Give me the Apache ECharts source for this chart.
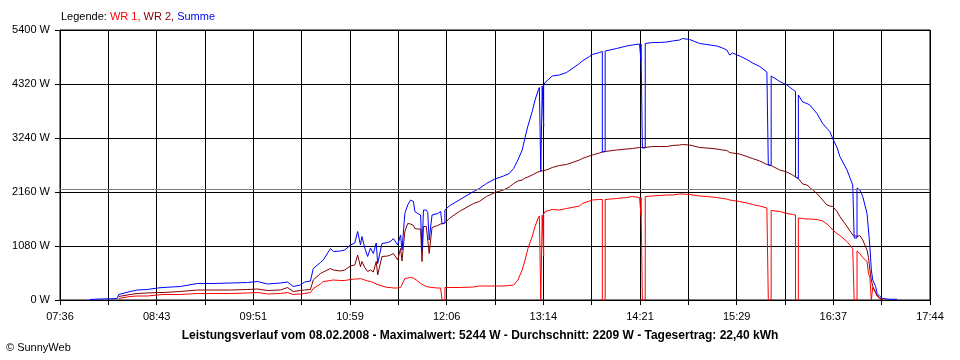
<!DOCTYPE html>
<html>
<head>
<meta charset="utf-8">
<script src="https://cdn.jsdelivr.net/npm/echarts@6/dist/echarts.min.js"></script>
<style>
html,body{margin:0;padding:0;background:#fff;}
#chart{width:960px;height:360px;}
</style>
</head>
<body>
<div id="chart"></div>
<script>
// ---- data ----
const startTime = '07:36';
const endTime = '17:44';
const xTickLabels = ['07:36','08:43','09:51','10:59','12:06','13:14','14:21','15:29','16:37','17:44'];
const yMax = 5400;
const yStep = 1080;
const average = 2209;

const times = [
'07:57','08:04','08:11','08:16','08:17','08:25','08:30','08:37','08:44','08:48',
'09:00','09:12','09:23','09:35','09:47','09:54','10:01','10:10','10:15','10:19',
'10:24','10:27','10:31','10:33','10:38','10:40','10:45','10:47','10:52','10:55',
'10:59','11:02','11:04','11:06','11:07','11:09','11:11','11:13','11:15','11:17',
'11:18','11:21','11:25','11:27','11:29','11:32','11:34','11:35','11:37','11:39',
'11:41','11:43','11:44','11:46','11:48','11:49','11:50','11:52','11:53','11:54',
'11:56','12:00','12:02','12:03','12:03','12:05','12:05','12:06','12:08','12:15',
'12:25','12:29','12:34','12:40','12:46','12:50','12:53','12:56','12:59','13:01',
'13:03','13:06','13:08','13:10','13:11','13:12','13:12','13:13','13:13','13:14',
'13:14','13:14','13:15','13:16','13:20','13:25','13:30','13:39','13:41','13:46',
'13:48','13:53','13:55','13:55','13:57','13:57','14:05','14:12','14:16','14:21',
'14:22','14:22','14:22','14:23','14:23','14:25','14:25','14:30','14:35','14:40',
'14:44','14:49','14:51','14:56','15:03','15:08','15:15','15:19','15:22','15:24',
'15:26','15:31','15:36','15:40','15:45','15:50','15:51','15:51','15:53','15:53',
'15:54','15:59','16:04','16:08','16:10','16:10','16:12','16:12','16:13','16:15',
'16:18','16:20','16:25','16:29','16:32','16:34','16:36','16:39','16:41','16:46',
'16:50','16:51','16:51','16:53','16:53','16:55','16:57','17:00','17:01','17:02',
'17:03','17:04','17:06','17:07','17:09','17:11','17:16','17:21'];

const wr1 = [
null,null,null,null,30,70,80,80,100,110,
110,130,130,130,140,150,120,130,150,110,
120,130,150,230,320,370,390,400,390,390,
410,420,420,430,430,400,380,370,350,320,
300,280,250,250,240,240,250,260,430,440,
450,440,410,380,330,310,300,270,260,260,
250,240,240,240,0,0,250,250,250,250,
260,280,280,280,280,290,300,400,600,800,
1030,1270,1470,1630,1680,1690,0,0,1700,1720,
880,1720,1770,1780,1810,1800,1830,1880,1930,1980,
2000,2010,2010,0,0,2010,2030,2050,2070,2050,
2050,1700,2050,2050,0,0,2070,2080,2090,2100,
2100,2120,2120,2110,2080,2070,2050,2030,2020,2000,
1990,1970,1940,1910,1880,1840,1830,0,0,1790,
1790,1770,1730,1710,1700,0,0,1640,1630,1630,
1620,1620,1610,1580,1520,1470,1400,1330,1290,1170,
1030,1020,0,0,980,930,850,770,530,450,
0,250,150,100,30,0,null,null];

const wr2 = [
null,null,null,null,70,110,130,140,150,150,
170,200,200,200,210,220,190,200,250,170,
190,200,210,400,530,560,630,600,580,600,
680,700,900,665,770,650,570,600,560,770,
500,870,880,900,930,800,1030,780,1370,1530,
1520,1490,1430,1420,1420,770,1470,1470,1460,930,
1450,1490,1520,1520,1520,1540,1540,1580,1630,1770,
1930,1970,2070,2150,2200,2260,2330,2380,2400,2440,
2460,2500,2530,2560,2570,2575,2575,2580,2580,2590,
2590,2590,2590,2600,2650,2690,2710,2800,2830,2880,
2900,2940,2960,2960,2970,2970,3000,3020,3030,3050,
3050,3050,3050,3050,3050,3050,3060,3070,3070,3070,
3090,3100,3110,3100,3050,3040,3020,3000,2990,2950,
2940,2920,2870,2830,2780,2710,2700,2700,2690,2690,
2680,2600,2560,2500,2460,2460,2430,2430,2400,2320,
2300,2250,2130,2000,1900,1880,1870,1770,1670,1470,
1300,1290,1270,1270,1290,1290,1200,1000,850,600,
400,270,150,80,30,10,null,null];

const summe = [
10,20,25,30,110,170,200,210,240,250,
270,330,330,340,350,370,320,340,360,270,
300,360,380,630,750,800,1030,970,980,1000,
1100,1140,1370,1100,1270,1040,870,1040,930,1140,
730,1130,1150,1170,1230,1100,1300,1000,1730,1900,
2000,1970,1770,1730,1700,1000,1800,1800,1750,1200,
1700,1730,1770,1770,1520,1540,1800,1840,1880,2000,
2170,2230,2330,2420,2480,2530,2630,2800,3000,3250,
3480,3770,4000,4180,4250,4260,2575,2580,4280,4300,
3470,4300,4350,4370,4480,4500,4550,4730,4780,4870,
4910,4950,4970,2960,2970,4980,5030,5080,5100,5120,
5120,4780,5120,5120,3040,3040,5130,5150,5150,5160,
5180,5200,5230,5210,5130,5110,5080,5040,5000,4900,
4940,4880,4810,4740,4670,4560,4540,2700,2690,4480,
4470,4370,4300,4210,4170,2460,2430,4100,4080,3960,
3930,3900,3730,3530,3430,3370,3230,3050,2870,2600,
2300,2280,1240,1240,2240,2200,2070,1730,1400,1070,
600,400,270,130,70,30,15,15];

// ---- helpers ----
function toMin(t){ const p = t.split(':'); return (+p[0])*60 + (+p[1]); }
const t0 = toMin(startTime);
const span = toMin(endTime) - t0;
const xStep = span / 18;
function pairs(vals){ return times.map((t,i)=>[toMin(t)-t0, vals[i]]); }

const FONT = "'Liberation Sans', Arial, sans-serif";
const chart = echarts.init(document.getElementById('chart'), null, {renderer:'canvas'});
chart.setOption({
  animation:false,
  backgroundColor:'#ffffff',
  title:[
    {left:61, top:11, padding:0, text:'{k|Legende: }{r|WR 1, }{d|WR 2, }{b|Summe}',
     textStyle:{fontFamily:FONT,fontSize:11,fontWeight:'normal',
       rich:{k:{color:'#000',fontFamily:FONT,fontSize:11},r:{color:'#ff0000',fontFamily:FONT,fontSize:11},
             d:{color:'#800000',fontFamily:FONT,fontSize:11},b:{color:'#0000ff',fontFamily:FONT,fontSize:11}}}},
    {left:480, top:330, padding:0, textAlign:'center',
     text:'Leistungsverlauf vom 08.02.2008 - Maximalwert: 5244 W - Durchschnitt: 2209 W - Tagesertrag: 22,40 kWh',
     textStyle:{fontFamily:FONT,fontSize:12,fontWeight:'bold',color:'#000'}},
    {left:6, top:342, padding:0, text:'© SunnyWeb', textStyle:{fontFamily:FONT,fontSize:11,fontWeight:'normal',color:'#000'}}
  ],
  grid:{left:60, top:30, right:30, bottom:60, show:true, borderColor:'#000', borderWidth:1, backgroundColor:'transparent'},
  xAxis:{
    type:'value', min:0, max:span, interval:xStep,
    axisLine:{show:true, lineStyle:{color:'#000', width:1}},
    axisTick:{show:true, inside:false, length:5, lineStyle:{color:'#000'}},
    splitLine:{show:true, lineStyle:{color:'#000', width:1}},
    axisLabel:{fontFamily:FONT, fontSize:11, color:'#000', margin:11, showMaxLabel:true, showMinLabel:true,
      formatter:function(v){ const i = Math.round(v/xStep); return (i%2===0) ? (xTickLabels[i/2]||'') : ''; }}
  },
  yAxis:{
    type:'value', min:0, max:yMax, interval:yStep,
    axisLine:{show:true, lineStyle:{color:'#000', width:1}},
    axisTick:{show:true, inside:false, length:5, lineStyle:{color:'#000'}},
    splitLine:{show:true, lineStyle:{color:'#000', width:1}},
    axisLabel:{fontFamily:FONT, fontSize:11, color:'#000', margin:10, formatter:function(v){return v+' W';}}
  },
  series:[
    {name:'WR 1', type:'line', data:pairs(wr1), showSymbol:false, symbol:'none', connectNulls:false,
     lineStyle:{color:'#ff0000', width:1}, itemStyle:{color:'#ff0000'},
     markLine:{silent:true, symbol:['none','none'], label:{show:false},
       lineStyle:{color:'#808080', type:'solid', width:1}, data:[{yAxis:average}]}},
    {name:'WR 2', type:'line', data:pairs(wr2), showSymbol:false, symbol:'none', connectNulls:false,
     lineStyle:{color:'#800000', width:1}, itemStyle:{color:'#800000'}},
    {name:'Summe', type:'line', data:pairs(summe), showSymbol:false, symbol:'none', connectNulls:false,
     lineStyle:{color:'#0000ff', width:1}, itemStyle:{color:'#0000ff'}}
  ]
});
</script>
</body>
</html>
